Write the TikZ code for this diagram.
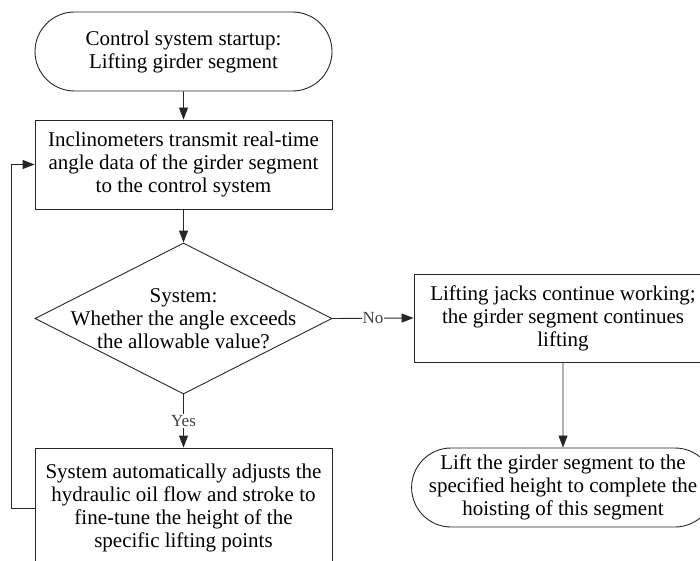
\documentclass[tikz,border=0pt]{standalone}
\usepackage{fontspec}
\setmainfont{Liberation Serif}
\usetikzlibrary{shapes.geometric,shapes.misc,arrows.meta}
\begin{document}
\begin{tikzpicture}[x=1pt,y=-1pt,
  line width=0.9pt,
  every node/.style={font=\fontsize{21}{23}\selectfont, align=center, inner sep=0pt},
  base/.style={draw=black!85, line width=0.9pt},
  term/.style={base, rounded rectangle, minimum height=79pt},
  proc/.style={base, rectangle},
  dec/.style={base, diamond, minimum width=297pt, minimum height=151pt},
  arr/.style={draw=black!85, -{Triangle[length=12pt,width=9pt]}},
  lbl/.style={font=\fontsize{17}{19}\selectfont, text=black!75, fill=white, inner sep=1pt}]
\useasboundingbox (0,0) rectangle (700,561);
\clip (0,0) rectangle (700,561);
\node[term, minimum width=297pt] (start) at (183.5,51.5) {Control system startup:\\Lifting girder segment};
\node[proc, minimum width=297pt, minimum height=89pt] (box1) at (183.5,164.5) {Inclinometers transmit real-time\\angle data of the girder segment\\to the control system};
\node[dec] (d) at (183.5,318.5) {};
\node (dtext) at (d.center) {System:\\Whether the angle exceeds\\the allowable value?};
\node[proc, minimum width=297pt, minimum height=120pt] (box3) at (183.5,508) {System automatically adjusts the\\hydraulic oil flow and stroke to\\fine-tune the height of the\\specific lifting points};
\node[proc, minimum width=298pt, minimum height=88pt] (boxR) at (563,318) {Lifting jacks continue working;\\the girder segment continues\\lifting};
\node[term, minimum width=298pt] (end) at (563,487.5) {Lift the girder segment to the\\specified height to complete the\\hoisting of this segment};
\draw[arr] (start) -- (box1);
\draw[arr] (box1) -- (d.north);
\draw[arr] (d.south) -- node[lbl]{Yes} (box3.north);
\draw[arr] (d.east) -- node[lbl, pos=0.5]{No} (boxR.west);
\draw[arr] (boxR) -- (end);
\draw[arr] (box3.west) -- ++(-23,0) |- (box1.west);
\end{tikzpicture}
\end{document}
